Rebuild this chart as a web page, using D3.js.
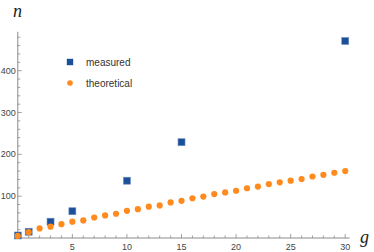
<!DOCTYPE html>
<html>
<head>
<meta charset="utf-8">
<script src="https://cdn.jsdelivr.net/npm/d3@7"></script>
<style>
  body { margin: 0; background: #fff; }
  svg { display: block; }
</style>
</head>
<body>
<div id="chart"></div>
<script>
var measuredG = [0, 1, 3, 5, 10, 15, 30];
var measuredN = [6, 15, 39, 64, 137, 229, 471];

var theoreticalG = d3.range(0, 31);
var theoreticalN = [5, 14, 23, 27, 33, 39, 42, 49, 54, 58, 65, 69, 75, 78, 85, 89,
                    95, 99, 105, 109, 113, 119, 123, 129, 133, 137, 141, 147, 151, 156, 160];

var xTicks = [5, 10, 15, 20, 25, 30];
var yTicks = [100, 200, 300, 400];

var svgWidth = 374, svgHeight = 252;

var svg = d3.select("#chart").append("svg")
    .attr("width", svgWidth)
    .attr("height", svgHeight);

var x = d3.scaleLinear().domain([-0.1, 30.4]).range([16.7, 349.6]);
var y = d3.scaleLinear().domain([0, 493]).range([238, 31.8]);

var axisColor = "#8a8a8a";
var labelColor = "#444";

// axis lines
svg.append("line")
    .attr("x1", x.range()[0]).attr("x2", x.range()[1])
    .attr("y1", y(0)).attr("y2", y(0))
    .attr("stroke", axisColor).attr("stroke-width", 1);
svg.append("line")
    .attr("x1", x(0)).attr("x2", x(0))
    .attr("y1", y(0)).attr("y2", y.range()[1])
    .attr("stroke", axisColor).attr("stroke-width", 1);

// x ticks (inward)
svg.selectAll(".xt").data(d3.range(0, 31)).enter().append("line")
    .attr("x1", d => x(d)).attr("x2", d => x(d))
    .attr("y1", y(0)).attr("y2", d => y(0) - (d % 5 === 0 && d > 0 ? 4 : 2.5))
    .attr("stroke", axisColor).attr("stroke-width", 0.8);

svg.selectAll(".xl").data(xTicks).enter().append("text")
    .attr("x", d => x(d)).attr("y", y(0) + 12)
    .attr("text-anchor", "middle")
    .attr("font-family", "Liberation Sans, Arial, sans-serif")
    .attr("font-size", 9).attr("fill", labelColor)
    .text(d => d);

// y ticks (inward)
svg.selectAll(".yt").data(d3.range(20, 481, 20)).enter().append("line")
    .attr("x1", x(0)).attr("x2", d => x(0) + (d % 100 === 0 ? 4 : 2.5))
    .attr("y1", d => y(d)).attr("y2", d => y(d))
    .attr("stroke", axisColor).attr("stroke-width", 0.8);

svg.selectAll(".yl").data(yTicks).enter().append("text")
    .attr("x", x(0) - 2).attr("y", d => y(d) + 3)
    .attr("text-anchor", "end")
    .attr("font-family", "Liberation Sans, Arial, sans-serif")
    .attr("font-size", 9).attr("fill", labelColor)
    .text(d => d);

// axis names
svg.append("text")
    .attr("x", 13).attr("y", 17)
    .attr("font-family", "Liberation Serif, Times New Roman, serif")
    .attr("font-style", "italic")
    .attr("font-size", 18).attr("fill", "#222")
    .text("n");
svg.append("text")
    .attr("x", 360).attr("y", 243)
    .attr("font-family", "Liberation Serif, Times New Roman, serif")
    .attr("font-style", "italic")
    .attr("font-size", 18).attr("fill", "#222")
    .text("g");

var blue = "#1c4f99";
var orange = "#ff8a1e";

// measured points
var sq = 7;
svg.selectAll(".ms").data(measuredG).enter().append("rect")
    .attr("x", d => x(d) - sq / 2)
    .attr("y", (d, i) => y(measuredN[i]) - sq / 2)
    .attr("width", sq).attr("height", sq)
    .attr("fill", blue)
    .attr("stroke", "#6f8fc0").attr("stroke-width", 0.6);

// theoretical points (drawn on top)
svg.selectAll(".th").data(theoreticalG).enter().append("circle")
    .attr("cx", d => x(d))
    .attr("cy", (d, i) => y(theoreticalN[i]))
    .attr("r", 3.1)
    .attr("fill", orange);

// legend
var legend = svg.append("g");
legend.append("rect")
    .attr("x", 70 - 3.2).attr("y", 62 - 3.2)
    .attr("width", 6.4).attr("height", 6.4)
    .attr("fill", blue);
legend.append("circle")
    .attr("cx", 70).attr("cy", 83)
    .attr("r", 2.8).attr("fill", orange);
legend.append("text")
    .attr("x", 86).attr("y", 65.5)
    .attr("font-family", "Liberation Sans, Arial, sans-serif")
    .attr("font-size", 10).attr("fill", "#333")
    .text("measured");
legend.append("text")
    .attr("x", 86).attr("y", 86.5)
    .attr("font-family", "Liberation Sans, Arial, sans-serif")
    .attr("font-size", 10).attr("fill", "#333")
    .text("theoretical");
</script>
</body>
</html>
